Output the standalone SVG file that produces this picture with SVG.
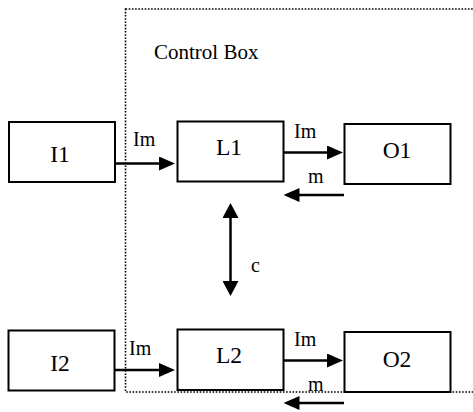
<svg xmlns="http://www.w3.org/2000/svg" width="473" height="412" viewBox="0 0 473 412">
<style>
.box{fill:#fff;stroke:#000;stroke-width:2}
.lbl{font-family:'Liberation Serif',serif;font-size:23.5px;fill:#000;text-anchor:middle}
.sm{font-family:'Liberation Serif',serif;font-size:20px;fill:#000}
.arr{stroke:#000;stroke-width:2.5;fill:none}
.dot{fill:none;stroke:#000;stroke-width:1.6;stroke-dasharray:1.6 1.6}
</style>
<defs>
<marker id="ah" markerUnits="userSpaceOnUse" markerWidth="17" markerHeight="14" refX="8" refY="7" orient="auto-start-reverse">
<path d="M0,0 L16,7 L0,14 z" fill="#000"/>
</marker>
<marker id="av" markerUnits="userSpaceOnUse" markerWidth="16" markerHeight="16" refX="7" refY="8" orient="auto-start-reverse">
<path d="M0,0 L15,8 L0,16 z" fill="#000"/>
</marker>
</defs>
<rect class="dot" x="125.5" y="9" width="360" height="383"/>
<text class="sm" x="154" y="59" style="font-size:21px">Control Box</text>
<g id="I1"><rect class="box" x="9" y="122" width="106" height="60"/><text class="lbl" x="60" y="162">I1</text></g>
<g id="L1"><rect class="box" x="177.5" y="121.5" width="106" height="60"/><text class="lbl" x="229" y="154.5">L1</text></g>
<g id="O1"><rect class="box" x="344.5" y="124" width="106" height="60"/><text class="lbl" x="397" y="158">O1</text></g>
<g id="I2"><rect class="box" x="8.5" y="330.5" width="106" height="60"/><text class="lbl" x="60" y="371">I2</text></g>
<g id="L2"><rect class="box" x="177.5" y="329.5" width="106" height="60.5"/><text class="lbl" x="229" y="363">L2</text></g>
<g id="O2"><rect class="box" x="344.5" y="332" width="106" height="60"/><text class="lbl" x="397" y="367">O2</text></g>
<g id="connectors">
<line class="arr" x1="115" y1="163.5" x2="167" y2="163.5" marker-end="url(#ah)"/>
<line class="arr" x1="283.5" y1="152.5" x2="335" y2="152.5" marker-end="url(#ah)"/>
<line class="arr" x1="344" y1="195" x2="291.5" y2="195" marker-end="url(#ah)"/>
<line class="arr" x1="230.5" y1="211" x2="230.5" y2="288" marker-start="url(#av)" marker-end="url(#av)"/>
<line class="arr" x1="114.5" y1="370" x2="167" y2="370" marker-end="url(#ah)"/>
<line class="arr" x1="283.5" y1="360.5" x2="335" y2="360.5" marker-end="url(#ah)"/>
<line class="arr" x1="344" y1="403" x2="291.5" y2="403" marker-end="url(#ah)"/>
<text class="sm" x="133" y="145.5">Im</text>
<text class="sm" x="294" y="137.5">Im</text>
<text class="sm" x="308" y="182.5">m</text>
<text class="sm" x="251" y="271.5">c</text>
<text class="sm" x="129" y="355">Im</text>
<text class="sm" x="294" y="345.5">Im</text>
<text class="sm" x="308" y="391">m</text>
</g>
</svg>
